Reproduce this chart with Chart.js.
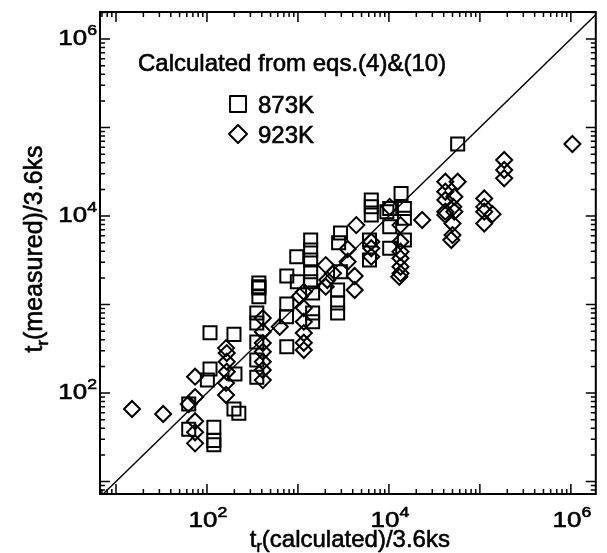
<!DOCTYPE html>
<html><head><meta charset="utf-8">
<script src="https://cdn.jsdelivr.net/npm/chart.js@4"></script>
<style>html,body{margin:0;padding:0;background:#fff}#wrap{width:607px;height:553px}</style>
</head><body><div id="wrap"><canvas id="c" width="607" height="553"></canvas></div>
<script>
// ---- data ----
const x873 = [63,63,119,119,119,198,224,108,198,108,101,203,372,372,372,372,353,353,353,353,353,754,754,754,748,970,985,1380,1380,1380,1380,1380,1450,1450,1450,2940,2800,2940,2730,2730,2730,6400,6400,6400,6120,6120,10200,9500,10200,10200,13600,14800,14800,14800,57000];
const y873 = [75,39,41,29,26,66,59,480,460,187,140,164,1750,1590,1535,1224,802,618,377,236,151,2100,1014,333,728,3470,1810,5360,4130,3180,2340,1810,1350,802,640,6420,4990,2340,1460,1040,802,15200,12700,10300,5360,3180,12200,11200,7570,4320,18000,12200,9430,5360,65200];
const x923 = [15,33,74,63,74,74,74,74,162,165,165,165,162,162,411,411,411,411,411,411,411,631,1160,1160,1160,1160,1160,1160,1050,2020,2100,2020,3520,3520,4380,4200,4200,2430,6400,6400,6400,10200,13400,13400,13400,13400,13400,13400,13000,23200,41700,57000,41700,52400,41700,51000,41700,52400,41700,50000,50000,48500,111700,111700,111700,137700,111700,185000,185000,185000,1040000];
const y923 = [66,58,90,75,48,36,27,153,322,283,226,174,130,95,703,493,367,293,226,182,140,561,1390,912,640,476,370,306,1235,2790,1890,1590,4240,3050,7900,2100,1460,2250,5130,4320,3470,12700,7900,5130,3950,3330,2670,2250,2060,9020,24400,24400,18800,16500,15200,12700,11200,11200,10300,8240,6090,5360,15800,12700,11200,10500,8240,43000,33100,26700,65200];
const seriesNames = ['873K','923K'];
const titleText = 'Calculated from eqs.(4)&(10)';
const xTitle = ['t','r','(calculated)/3.6ks'];
const yTitle = ['t','r','(measured)/3.6ks'];
const labelExps = [2,4,6];
const xRange = [6.67, 1.88e6];
const yRange = [7.23, 2.02e6];
const diagonal = [1, 1e7];

const toPts = (xs, ys) => xs.map((x, i) => ({x, y: ys[i]}));
const FONT = '"Liberation Sans", Arial, Helvetica, sans-serif';

function txt(ctx, s, x, y) {
  ctx.fillText(s, x, y);
  ctx.strokeText(s, x, y);
}

function drawSubText(ctx, parts, x, y, size, align) {
  const [a, sub, b] = parts;
  ctx.font = size + 'px ' + FONT;
  const wa = ctx.measureText(a).width, wb = ctx.measureText(b).width;
  ctx.font = Math.round(size * 0.68) + 'px ' + FONT;
  const ws = ctx.measureText(sub).width;
  const total = wa + ws + wb;
  let sx = align === 'center' ? x - total / 2 : x;
  ctx.textAlign = 'left'; ctx.textBaseline = 'alphabetic';
  ctx.font = size + 'px ' + FONT; txt(ctx, a, sx, y);
  ctx.font = Math.round(size * 0.68) + 'px ' + FONT; txt(ctx, sub, sx + wa, y + size * 0.22);
  ctx.font = size + 'px ' + FONT; txt(ctx, b, sx + wa + ws, y);
}

const SX = 1.18; // horizontal stretch of tick labels
function drawPow(ctx, exp, x, y, align) {
  ctx.textBaseline = 'alphabetic'; ctx.textAlign = 'left';
  ctx.font = '22px ' + FONT;
  const w1 = ctx.measureText('10').width * SX;
  ctx.font = '15px ' + FONT;
  const w2 = ctx.measureText(String(exp)).width * SX;
  const total = w1 + w2;
  let sx = align === 'center' ? x - total / 2 : x - total;
  ctx.save(); ctx.translate(sx, y); ctx.scale(SX, 1);
  ctx.font = '22px ' + FONT; txt(ctx, '10', 0, 0);
  ctx.font = '15px ' + FONT; txt(ctx, String(exp), w1 / SX, -10);
  ctx.restore();
}

const decor = {
  id: 'decor',
  afterDatasetsDraw(chart) {
    const ctx = chart.ctx, a = chart.chartArea;
    const xs = chart.scales.x, ys = chart.scales.y;
    ctx.save();
    ctx.strokeStyle = '#000'; ctx.fillStyle = '#000';
    ctx.lineWidth = 2;
    ctx.strokeRect(a.left, a.top, a.right - a.left, a.bottom - a.top);
    ctx.lineWidth = 1.5;
    ctx.beginPath();
    for (let d = 0; d <= 7; d++) {
      for (let m = 1; m <= 9; m++) {
        const v = m * Math.pow(10, d);
        const len = m === 1 ? 10 : 5;
        if (v >= xs.min && v <= xs.max) {
          const px = xs.getPixelForValue(v);
          ctx.moveTo(px, a.bottom); ctx.lineTo(px, a.bottom - len);
          ctx.moveTo(px, a.top); ctx.lineTo(px, a.top + len);
        }
        if (v >= ys.min && v <= ys.max) {
          const py = ys.getPixelForValue(v);
          ctx.moveTo(a.left, py); ctx.lineTo(a.left + len, py);
          ctx.moveTo(a.right, py); ctx.lineTo(a.right - len, py);
        }
      }
    }
    ctx.stroke();
    ctx.lineWidth = 0.6; ctx.lineJoin = 'round';
    labelExps.forEach(e => {
      const v = Math.pow(10, e);
      drawPow(ctx, e, xs.getPixelForValue(v) + 1, a.bottom + 33, 'center');
      drawPow(ctx, e, a.left - 3, ys.getPixelForValue(v) + 6, 'right');
    });
    drawSubText(ctx, xTitle, (a.left + a.right) / 2 + 2, 547, 24, 'center');
    ctx.save();
    ctx.translate(42, (a.top + a.bottom) / 2 - 4);
    ctx.rotate(-Math.PI / 2);
    drawSubText(ctx, yTitle, 0, 0, 25, 'center');
    ctx.restore();
    ctx.font = '24px ' + FONT; ctx.textAlign = 'left'; ctx.textBaseline = 'alphabetic';
    txt(ctx, titleText, 138, 71);
    txt(ctx, seriesNames[0], 258, 113);
    txt(ctx, seriesNames[1], 258, 143);
    ctx.lineWidth = 2;
    ctx.strokeRect(230, 96, 16, 16);
    ctx.beginPath();
    ctx.moveTo(238, 125); ctx.lineTo(247, 134); ctx.lineTo(238, 143); ctx.lineTo(229, 134); ctx.closePath();
    ctx.stroke();
    ctx.restore();
  }
};

new Chart(document.getElementById('c'), {
  type: 'scatter',
  data: {
    datasets: [
      { label: seriesNames[0], data: toPts(x873, y873), pointStyle: 'rect', pointRadius: 9.2, pointHoverRadius: 9.2,
        borderColor: '#000', backgroundColor: 'rgba(0,0,0,0)', borderWidth: 2 },
      { label: seriesNames[1], data: toPts(x923, y923), pointStyle: 'rectRot', pointRadius: 8, pointHoverRadius: 8,
        borderColor: '#000', backgroundColor: 'rgba(0,0,0,0)', borderWidth: 2 },
      { type: 'line', label: 'y=x', data: toPts(diagonal, diagonal), showLine: true, pointRadius: 0,
        borderColor: '#000', borderWidth: 1.4, fill: false }
    ]
  },
  options: {
    responsive: false, animation: false, devicePixelRatio: 1,
    layout: { padding: { left: 100, right: 11, top: 12, bottom: 59 } },
    plugins: { legend: { display: false }, tooltip: { enabled: false } },
    scales: {
      x: { type: 'logarithmic', min: xRange[0], max: xRange[1], display: false },
      y: { type: 'logarithmic', min: yRange[0], max: yRange[1], display: false }
    }
  },
  plugins: [decor]
});
</script></body></html>
